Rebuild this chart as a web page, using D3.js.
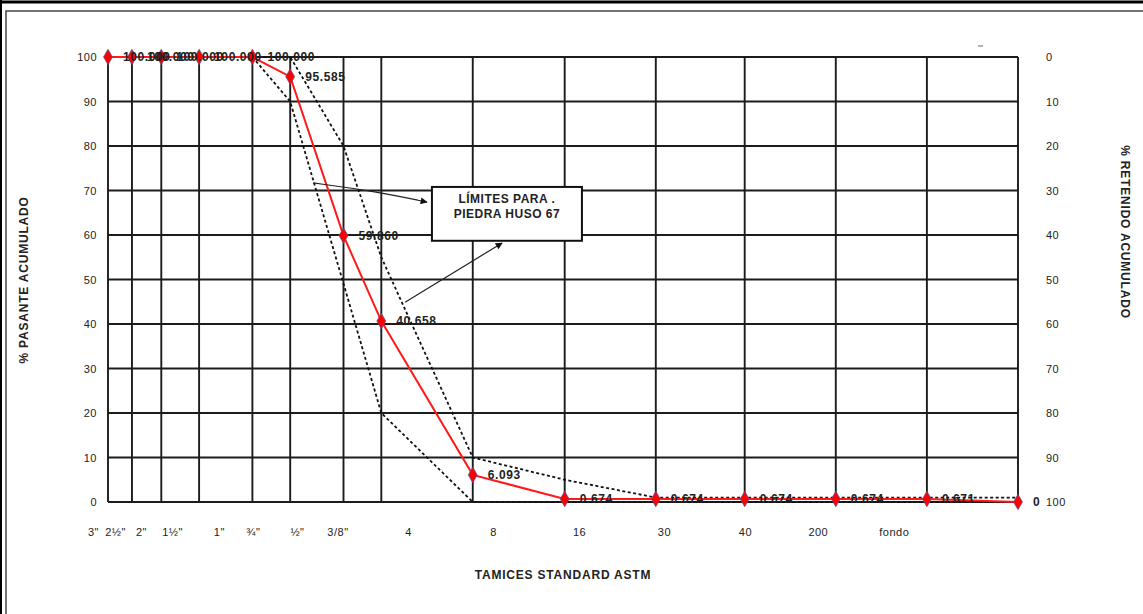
<!DOCTYPE html>
<html><head><meta charset="utf-8">
<script src="https://cdn.jsdelivr.net/npm/d3@7"></script>
<style>
html,body{margin:0;padding:0;background:#fff;}
svg{display:block;font-family:"Liberation Sans", Arial, sans-serif;}
</style></head><body>
<svg id="chart" width="1143" height="614"></svg>
<script>
// ---- data ----
const sieveNames = ['3"','2½"','2"','1½"','1"','¾"','½"','3/8"','N°4','N°8','N°16','N°30','N°50','N°100','N°200'];
const sieveSizes = [76.2,63.5,50.8,38.1,25.4,19.05,12.7,9.525,4.75,2.36,1.18,0.6,0.3,0.15,0.075];
const passing = [100,100,100,100,100,95.585,59.860,40.658,6.093,0.674,0.674,0.674,0.674,0.671,0];
const passingLabels = ["100.000","100.000","100.000","100.000","100.000","95.585","59.860","40.658","6.093","0.674","0.674","0.674","0.674","0.671","0"];
const upperSizes = [25.4,19.05,12.7,9.525,4.75,2.36,1.18,0.6,0.3,0.15,0.075];
const upperLimit = [100,100,80,55,10,5,1,1,1,1,1];
const lowerSizes = [25.4,19.05,9.525,4.75,2.36,1.18,0.6,0.3,0.15,0.075];
const lowerLimit = [100,90,20,0,0,0,0,0,0,0];
const xTickText = ['3"','2½"','2"','1½"','1"','¾"','½"','3/8"','4','8','16','30','40','200','fondo'];
const xTickAt = [85.4,72.2,59.3,46.8,32.8,25.3,18.1,13.3,7.77,4.07,2.116,1.109,0.599,0.344,0.193];
const yTicks = [0,10,20,30,40,50,60,70,80,90,100];
const noteLines = ["LÍMITES PARA .","PIEDRA HUSO 67"];
// annotation anchors in data units (sieve mm, % passing)
const noteBox = {x0:6.48, x1:2.07, y0:70.8, y1:58.7};
const arrow1 = [[16.0,71.7],[10.2,69.9],[6.73,67.4]];
const arrow2 = [[7.95,44.9],[3.80,58.2]];

const svg = d3.select("#chart");
const W = 1143, H = 614;
const L = 108, R = 1018, T = 57, B = 502;

const x = d3.scaleLog().domain([76.2, 0.075]).range([L, R]);
const y = d3.scaleLinear().domain([0, 100]).range([B, T]);
const yR = d3.scaleLinear().domain([0, 100]).range([T, B]);

// frame
svg.append("rect").attr("x",0).attr("y",0).attr("width",W).attr("height",H).attr("fill","#fff");
svg.append("line").attr("x1",0).attr("x2",W).attr("y1",2).attr("y2",2).attr("stroke","#000").attr("stroke-width",3);
svg.append("line").attr("x1",1).attr("x2",1).attr("y1",0).attr("y2",H).attr("stroke","#000").attr("stroke-width",2);
svg.append("path").attr("d",`M6,${H}V11H${W}`).attr("fill","none").attr("stroke","#444").attr("stroke-width",1.5);
svg.append("line").attr("x1",978).attr("x2",983).attr("y1",46).attr("y2",46).attr("stroke","#666").attr("stroke-width",1);

const g = svg.append("g");
const gridColor = "#1c1c1c";
// horizontal grid
g.selectAll("line.h").data(yTicks).join("line")
  .attr("x1",L).attr("x2",R).attr("y1",d=>y(d)).attr("y2",d=>y(d))
  .attr("stroke",gridColor).attr("stroke-width",d=>(d===0||d===100)?2.2:1.9);
// vertical grid
g.selectAll("line.v").data(sieveSizes).join("line")
  .attr("x1",d=>x(d)).attr("x2",d=>x(d)).attr("y1",T).attr("y2",B)
  .attr("stroke",gridColor).attr("stroke-width",1.9);

// axes labels
const axL = svg.append("g").attr("transform",`translate(${L},0)`)
  .call(d3.axisLeft(y).tickValues(yTicks).tickSize(0).tickPadding(11));
const axR = svg.append("g").attr("transform",`translate(${R},0)`)
  .call(d3.axisRight(yR).tickValues(yTicks).tickSize(0).tickPadding(28));
const axB = svg.append("g").attr("transform",`translate(0,${B})`)
  .call(d3.axisBottom(x).tickValues(xTickAt).tickFormat((d,i)=>xTickText[i]).tickSize(0).tickPadding(26));
[axL,axR,axB].forEach(a=>{
  a.select(".domain").remove();
  a.selectAll("text").attr("font-size",11).attr("letter-spacing",0.5).attr("fill","#222")
    .attr("font-family","Liberation Sans, Arial, sans-serif");
});

// limit lines
const line = d3.line().x(d=>x(d[0])).y(d=>y(d[1]));
g.append("path").datum(upperSizes.map((s,i)=>[s,upperLimit[i]]))
  .attr("d",line).attr("fill","none").attr("stroke","#111").attr("stroke-width",1.8).attr("stroke-dasharray","3,2.5");
g.append("path").datum(lowerSizes.map((s,i)=>[s,lowerLimit[i]]))
  .attr("d",line).attr("fill","none").attr("stroke","#111").attr("stroke-width",1.8).attr("stroke-dasharray","3,2.5");

// main curve
const pts = sieveSizes.map((s,i)=>[s,passing[i]]);
g.append("path").datum(pts).attr("d",line).attr("fill","none").attr("stroke","#ff1a1a").attr("stroke-width",2);
g.selectAll("path.pt").data(pts).join("path")
  .attr("transform",d=>`translate(${x(d[0])},${y(d[1])})`)
  .attr("d",d3.symbol(d3.symbolDiamond,70))
  .attr("fill","#ff0000").attr("stroke","#4a5a9a").attr("stroke-width",0.7);
g.selectAll("text.lbl").data(pts).join("text")
  .attr("x",d=>x(d[0])+15).attr("y",d=>y(d[1])).attr("dy","0.35em")
  .attr("font-size",12).attr("font-weight","bold").attr("letter-spacing",0.6).attr("fill","#222")
  .text((d,i)=>passingLabels[i]);

// annotation
const ax0 = x(noteBox.x0), ax1 = x(noteBox.x1), ay0 = y(noteBox.y0), ay1 = y(noteBox.y1);
svg.append("rect").attr("x",ax0).attr("y",ay0).attr("width",ax1-ax0).attr("height",ay1-ay0)
  .attr("fill","#fff").attr("stroke","#111").attr("stroke-width",2);
noteLines.forEach((t,i)=>{
  svg.append("text").attr("x",(ax0+ax1)/2).attr("y",ay0+16.5+i*14.5)
    .attr("text-anchor","middle").attr("font-size",12).attr("font-weight","bold").attr("letter-spacing",0.5)
    .attr("fill","#222").text(t);
});
const defs = svg.append("defs");
defs.append("marker").attr("id","arr").attr("viewBox","0 0 10 10").attr("refX",9).attr("refY",5)
  .attr("markerWidth",9).attr("markerHeight",7).attr("markerUnits","userSpaceOnUse").attr("orient","auto")
  .append("path").attr("d","M0,0L10,5L0,10Z").attr("fill","#111");
const aLine = d3.line().x(d=>x(d[0])).y(d=>y(d[1])).curve(d3.curveBasis);
svg.append("path").datum(arrow1).attr("d",aLine).attr("fill","none").attr("stroke","#222").attr("stroke-width",1.2).attr("marker-end","url(#arr)");
svg.append("path").datum(arrow2).attr("d",d3.line().x(d=>x(d[0])).y(d=>y(d[1]))).attr("fill","none").attr("stroke","#222").attr("stroke-width",1.2).attr("marker-end","url(#arr)");

// titles
svg.append("text").attr("transform",`translate(28,280) rotate(-90)`).attr("text-anchor","middle")
  .attr("font-size",12).attr("font-weight","bold").attr("letter-spacing",0.8).attr("fill","#222").text("% PASANTE ACUMULADO");
svg.append("text").attr("transform",`translate(1121,232) rotate(90)`).attr("text-anchor","middle")
  .attr("font-size",12).attr("font-weight","bold").attr("letter-spacing",0.8).attr("fill","#222").text("% RETENIDO ACUMULADO");
svg.append("text").attr("x",563).attr("y",579).attr("text-anchor","middle")
  .attr("font-size",12).attr("font-weight","bold").attr("letter-spacing",0.8).attr("fill","#222").text("TAMICES STANDARD ASTM");
</script>
</body></html>
